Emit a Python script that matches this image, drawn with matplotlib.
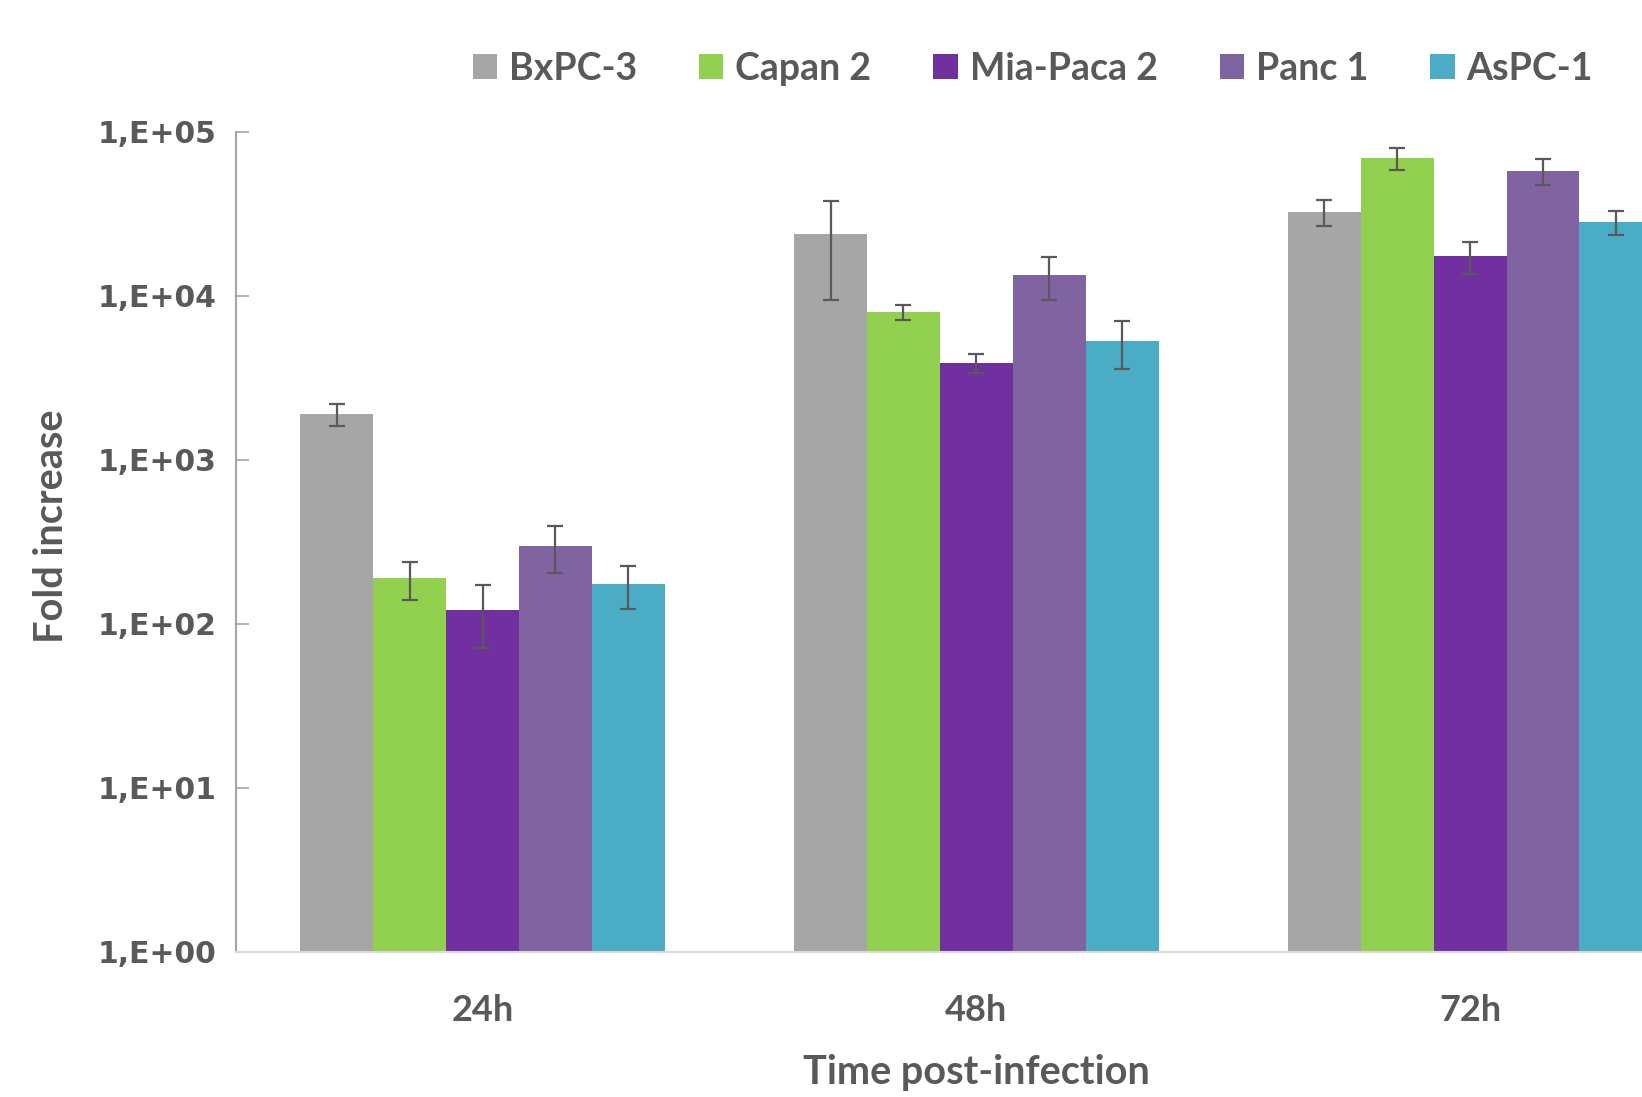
import numpy as np
import matplotlib.pyplot as plt
from matplotlib.ticker import FixedLocator, NullLocator

# fold increase per cell line at each time point (mean +/- sd)
time_points = ['24h', '48h', '72h']
cell_lines = ['BxPC-3', 'Capan 2', 'Mia-Paca 2', 'Panc 1', 'AsPC-1']
bxpc3 = [1900, 23700, 32500]
capan2 = [190, 8000, 69000]
miapaca2 = [122, 3900, 17500]
panc1 = [300, 13400, 58000]
aspc1 = [175, 5300, 28300]
bxpc3_sd = [300, 14300, 5800]
capan2_sd = [50, 850, 10500]
miapaca2_sd = [51, 520, 3800]
panc1_sd = [95, 4000, 10400]
aspc1_sd = [52, 1700, 4700]
y_ticks = [1e0, 1e1, 1e2, 1e3, 1e4, 1e5]
y_tick_labels = ['1,E+00', '1,E+01', '1,E+02', '1,E+03', '1,E+04', '1,E+05']

values = [bxpc3, capan2, miapaca2, panc1, aspc1]
errors = [bxpc3_sd, capan2_sd, miapaca2_sd, panc1_sd, aspc1_sd]
colors = ['#A6A6A6', '#92D050', '#7030A0', '#8064A2', '#4BACC6']
TEXT = '#595959'
LABEL_FONT = ['Lato', 'DejaVu Sans']

fig = plt.figure(figsize=(16.42, 10.97), dpi=100)
ax = fig.add_axes([0.1435, 0.1323, 0.9022, 0.7474])

x = np.arange(len(time_points))
width = 0.1476
for i, (vals, errs, col, name) in enumerate(zip(values, errors, colors, cell_lines)):
    ax.bar(x + (i - 2) * width, vals, width, color=col, label=name,
           yerr=errs, error_kw=dict(ecolor=TEXT, elinewidth=1.6, capsize=6, capthick=1.6),
           zorder=2)

ax.set_yscale('log')
ax.set_ylim(1, 1e5)
ax.set_xlim(-0.5, 2.5)
ax.yaxis.set_major_locator(FixedLocator(y_ticks))
ax.yaxis.set_minor_locator(NullLocator())
ax.set_yticklabels(y_tick_labels)
ax.set_xticks(x)
ax.set_xticklabels(time_points)

for s in ['top', 'right']:
    ax.spines[s].set_visible(False)
ax.spines['left'].set_color('#A6A6A6')
ax.spines['left'].set_linewidth(1.5)
ax.spines['bottom'].set_color('#D9D9D9')
ax.spines['bottom'].set_linewidth(1.5)

ax.tick_params(axis='y', direction='in', length=9, width=1.2, color='#A6A6A6',
               labelsize=21.5, labelcolor=TEXT, pad=14)
ax.tick_params(axis='x', length=0, labelsize=26, labelcolor=TEXT, pad=30)
for lbl in ax.get_yticklabels():
    lbl.set_fontweight('bold')
    lbl.set_family('DejaVu Sans')
for lbl in ax.get_xticklabels():
    lbl.set_fontweight('bold')
    lbl.set_family(LABEL_FONT)

ax.set_xlabel('Time post-infection', fontsize=28.5, fontweight='bold', color=TEXT,
              family=LABEL_FONT, labelpad=20)
ax.set_ylabel('Fold increase', fontsize=28.5, fontweight='bold', color=TEXT,
              family=LABEL_FONT)
ax.yaxis.set_label_coords(-0.112, 0.5185)

fig.legend(loc='center', bbox_to_anchor=(0.629, 0.937), ncol=5, frameon=False,
           handlelength=0.65, handleheight=0.65, handletextpad=0.32, columnspacing=1.65,
           prop=dict(family=LABEL_FONT, weight='bold', size=27), labelcolor=TEXT)

fig.savefig('out.png', dpi=100)
